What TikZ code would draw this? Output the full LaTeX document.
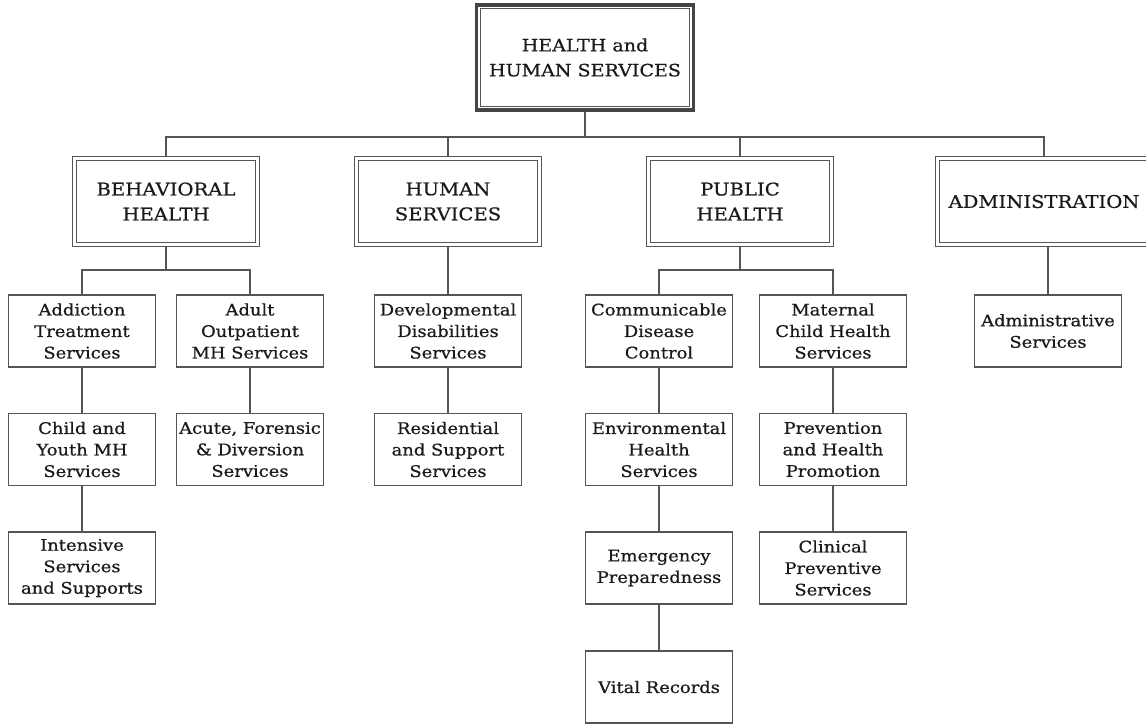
\documentclass[tikz,border=0pt]{standalone}
\usepackage{fontspec}
\setmainfont{DejaVu Serif}[FakeStretch=1.12, FakeBold=0.6]
\usetikzlibrary{backgrounds}
\definecolor{ln}{HTML}{555555}
\definecolor{tx}{HTML}{1A1A1A}
\begin{document}
\begin{tikzpicture}[x=1pt,y=-1pt,
  every node/.style={font=\fontsize{16}{21.5}\selectfont, text=tx, align=center, inner sep=0pt},
  topbox/.style={draw=ln!80!black, line width=3.5pt, fill=white, minimum width=217pt, minimum height=105pt, font=\fontsize{17}{25}\selectfont},
  deptbox/.style={draw=ln, line width=1.3pt, double=white, double distance=2.3pt, fill=white, minimum width=183pt, minimum height=86pt, font=\fontsize{17.5}{25}\selectfont},
  unitbox/.style={draw=ln, line width=1.7pt, fill=white, minimum width=147pt, minimum height=72pt},
  conn/.style={draw=ln, line width=1.8pt}]
\clip (0,0) rectangle (1146,726);
% top
\node[topbox] (top) at (585,57.5) {HEALTH and\\HUMAN SERVICES};
\draw[ln, line width=1.3pt] ([shift={(5.5,5.5)}]top.north west) rectangle ([shift={(-5.5,-5.5)}]top.south east);
% departments
\node[deptbox] (bh) at (166,201.5) {BEHAVIORAL\\HEALTH};
\node[deptbox] (hs) at (448,201.5) {HUMAN\\SERVICES};
\node[deptbox] (ph) at (740,201.5) {PUBLIC\\HEALTH};
\node[deptbox, minimum width=213pt] (adm) at (1044,201.5) {ADMINISTRATION};
% behavioral health
\node[unitbox] (addict) at (82,331) {Addiction\\Treatment\\Services};
\node[unitbox] (child) at (82,449.5) {Child and\\Youth MH\\Services};
\node[unitbox] (intens) at (82,568) {Intensive\\Services\\and Supports};
\node[unitbox] (adult) at (250,331) {Adult\\Outpatient\\MH Services};
\node[unitbox] (acute) at (250,449.5) {Acute, Forensic\\\& Diversion\\Services};
% human services
\node[unitbox] (dev) at (448,331) {Developmental\\Disabilities\\Services};
\node[unitbox] (res) at (448,449.5) {Residential\\and Support\\Services};
% public health
\node[unitbox] (comm) at (659,331) {Communicable\\Disease\\Control};
\node[unitbox] (env) at (659,449.5) {Environmental\\Health\\Services};
\node[unitbox] (emerg) at (659,568) {Emergency\\Preparedness};
\node[unitbox] (vital) at (659,687) {Vital Records};
\node[unitbox] (mat) at (833,331) {Maternal\\Child Health\\Services};
\node[unitbox] (prev) at (833,449.5) {Prevention\\and Health\\Promotion};
\node[unitbox] (clin) at (833,568) {Clinical\\Preventive\\Services};
% administration
\node[unitbox] (admsvc) at (1048,331) {Administrative\\Services};
% connectors
\coordinate (bus) at (0,137);
\coordinate (subbus) at (0,270);
\begin{scope}[on background layer]
\fill[white] (0,0) rectangle (1146,726);
\draw[conn] (top.south) -- (top.south |- bus);
\draw[conn] (bh.north) |- (adm.north |- bus) -- (adm.north);
\draw[conn] (hs.north) -- (hs.north |- bus);
\draw[conn] (ph.north) -- (ph.north |- bus);
\draw[conn] (bh.south) -- (bh.south |- subbus);
\draw[conn] (addict.north) |- (adult.north |- subbus) -- (adult.north);
\draw[conn] (addict) -- (child);
\draw[conn] (child) -- (intens);
\draw[conn] (adult) -- (acute);
\draw[conn] (hs.south) -- (dev.north);
\draw[conn] (dev) -- (res);
\draw[conn] (ph.south) -- (ph.south |- subbus);
\draw[conn] (comm.north) |- (mat.north |- subbus) -- (mat.north);
\draw[conn] (comm) -- (env);
\draw[conn] (env) -- (emerg);
\draw[conn] (emerg) -- (vital);
\draw[conn] (mat) -- (prev);
\draw[conn] (prev) -- (clin);
\draw[conn] (admsvc.north) -- (admsvc.north |- adm.south);
\end{scope}
\end{tikzpicture}
\end{document}
